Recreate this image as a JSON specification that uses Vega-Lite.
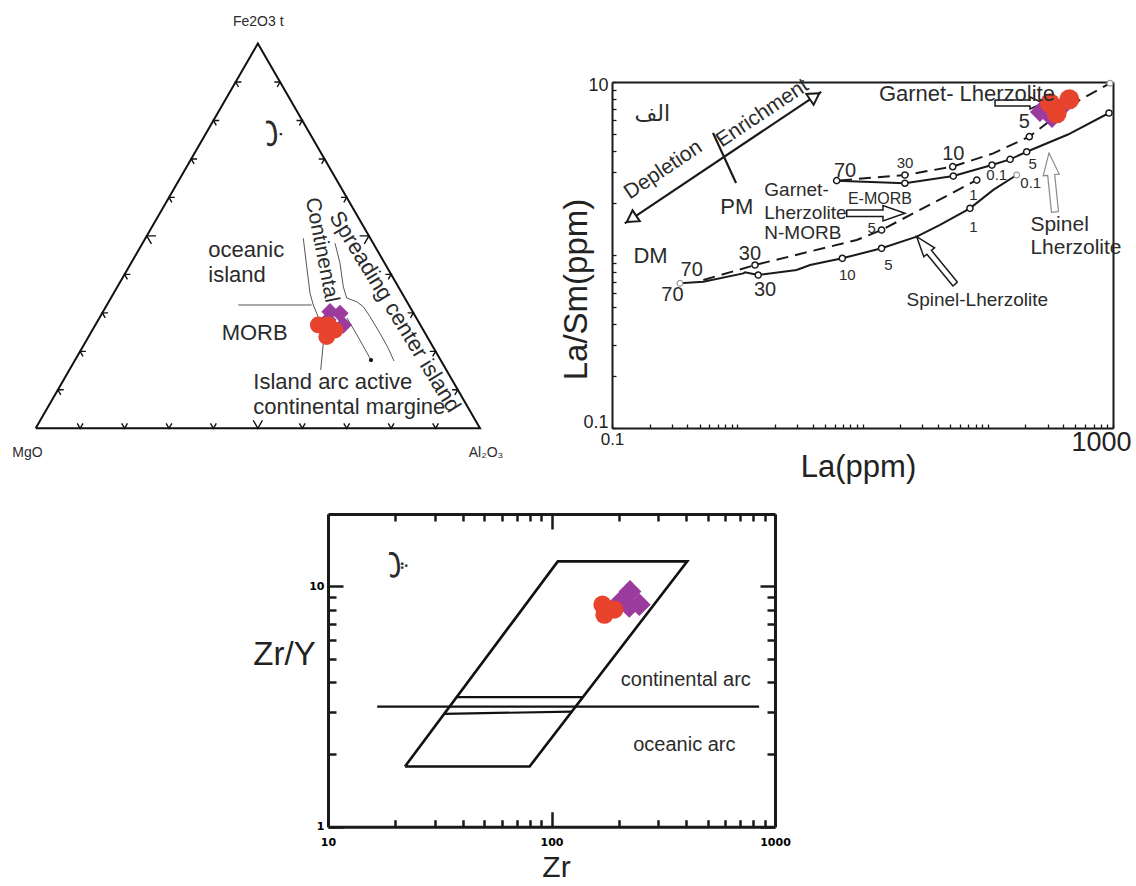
{
"$schema": "https://vega.github.io/schema/vega-lite/v6.json",
"width": 1136, "height": 886, "autosize": "none", "padding": 0, "background": "white",
"config": {
 "view": {"stroke": null},
 "axis": {"grid": false, "labelFont": "Liberation Sans", "titleFont": "Liberation Sans", "titleFontWeight": "normal", "domainColor": "#1a1a1a", "tickColor": "#1a1a1a", "labelColor": "#222222", "titleColor": "#222222", "labelFlush": false, "labelOverlap": false},
 "text": {"font": "Liberation Sans", "color": "#2b2b2b"}
},
"datasets": {
 "tern_frame": [{"x":0,"y":0,"i":0},{"x":100,"y":0,"i":1},{"x":50,"y":86.6,"i":2},{"x":0,"y":0,"i":3}],
 "tern_ticks": [
  {"x":10,"y":0,"side":"base","pct":10},{"x":20,"y":0,"side":"base","pct":20},{"x":30,"y":0,"side":"base","pct":30},{"x":40,"y":0,"side":"base","pct":40},{"x":50,"y":0,"side":"base","pct":50},{"x":60,"y":0,"side":"base","pct":60},{"x":70,"y":0,"side":"base","pct":70},{"x":80,"y":0,"side":"base","pct":80},{"x":90,"y":0,"side":"base","pct":90},
  {"x":5,"y":8.66,"side":"left","pct":10},{"x":10,"y":17.32,"side":"left","pct":20},{"x":15,"y":25.98,"side":"left","pct":30},{"x":20,"y":34.64,"side":"left","pct":40},{"x":25,"y":43.3,"side":"left","pct":50},{"x":30,"y":51.96,"side":"left","pct":60},{"x":35,"y":60.62,"side":"left","pct":70},{"x":40,"y":69.28,"side":"left","pct":80},{"x":45,"y":77.94,"side":"left","pct":90},
  {"x":95,"y":8.66,"side":"right","pct":10},{"x":90,"y":17.32,"side":"right","pct":20},{"x":85,"y":25.98,"side":"right","pct":30},{"x":80,"y":34.64,"side":"right","pct":40},{"x":75,"y":43.3,"side":"right","pct":50},{"x":70,"y":51.96,"side":"right","pct":60},{"x":65,"y":60.62,"side":"right","pct":70},{"x":60,"y":69.28,"side":"right","pct":80},{"x":55,"y":77.94,"side":"right","pct":90}
 ],
 "tern_lines": [
  {"id":"h","i":0,"x":45.6,"y":27.75},{"id":"h","i":1,"x":62.12,"y":27.75},
  {"id":"L1","i":0,"x":60.23,"y":42.76},{"id":"L1","i":1,"x":61.0,"y":36.37},{"id":"L1","i":2,"x":61.74,"y":30.39},{"id":"L1","i":3,"x":62.48,"y":27.75},{"id":"L1","i":4,"x":63.6,"y":25.0},{"id":"L1","i":5,"x":64.6,"y":21.5},{"id":"L1","i":6,"x":64.73,"y":19.13},{"id":"L1","i":7,"x":64.15,"y":13.12},
  {"id":"L2","i":0,"x":67.37,"y":41.64},{"id":"L2","i":1,"x":68.49,"y":37.14},{"id":"L2","i":2,"x":69.23,"y":31.87},{"id":"L2","i":3,"x":70.0,"y":29.33},{"id":"L2","i":4,"x":72.25,"y":28.49},{"id":"L2","i":5,"x":73.73,"y":27.37},{"id":"L2","i":6,"x":75.24,"y":25.12},{"id":"L2","i":7,"x":77.49,"y":21.38},{"id":"L2","i":8,"x":79.36,"y":18.01},{"id":"L2","i":9,"x":80.64,"y":15.15},
  {"id":"L3","i":0,"x":70.07,"y":24.83},{"id":"L3","i":1,"x":72.32,"y":21.0},{"id":"L3","i":2,"x":75.47,"y":15.37}
 ],
 "tern_dot": [{"x":75.47,"y":15.37}],
 "tern_samples": [
  {"x":66.24,"y":26.24,"series":"s1"},{"x":68.49,"y":25.88,"series":"s1"},{"x":69.23,"y":23.25,"series":"s1"},{"x":65.79,"y":24.38,"series":"s1"},
  {"x":63.61,"y":23.25,"series":"s2"},{"x":65.86,"y":23.25,"series":"s2"},{"x":65.5,"y":20.62,"series":"s2"},{"x":67.36,"y":22.12,"series":"s2"}
 ],
 "tern_text": [
  {"x":50.1,"y":91.45,"text":"Fe2O3 t","kind":"corner"},
  {"x":-1.85,"y":-5.56,"text":"MgO","kind":"corner"},
  {"x":101.35,"y":-5.56,"text":"Al₂O₃","kind":"corner"},
  {"x":38.85,"y":40.13,"text":"oceanic","kind":"region"},
  {"x":38.85,"y":34.5,"text":"island","kind":"region"},
  {"x":41.86,"y":21.38,"text":"MORB","kind":"region"},
  {"x":48.98,"y":10.49,"text":"Island arc active","kind":"region"},
  {"x":48.98,"y":4.86,"text":"continental margine","kind":"region"},
  {"x":64.37,"y":40.13,"text":"Continental","kind":"cont"},
  {"x":80.87,"y":26.24,"text":"Spreading center island","kind":"spread"}
 ],
 "tern_arabic": [{"x":51.99,"y":66.4,"text":"ب"}],
 "tr_curves": [
  {"curve":"g_solid","i":0,"x":6.22,"y":2.69},{"curve":"g_solid","i":1,"x":21.8,"y":2.60},{"curve":"g_solid","i":2,"x":53.1,"y":2.86},{"curve":"g_solid","i":3,"x":108,"y":3.31},{"curve":"g_solid","i":4,"x":150.7,"y":3.57},{"curve":"g_solid","i":5,"x":204.6,"y":3.95},{"curve":"g_solid","i":6,"x":437,"y":4.97},{"curve":"g_solid","i":7,"x":929,"y":6.62},
  {"curve":"g_dash","i":0,"x":6.61,"y":2.70},{"curve":"g_dash","i":1,"x":21.8,"y":2.90},{"curve":"g_dash","i":2,"x":52.5,"y":3.24},{"curve":"g_dash","i":3,"x":110.7,"y":3.87},{"curve":"g_dash","i":4,"x":214.6,"y":4.83},{"curve":"g_dash","i":5,"x":460,"y":7.36},{"curve":"g_dash","i":6,"x":946,"y":9.83},
  {"curve":"s_solid","i":0,"x":0.349,"y":0.686},{"curve":"s_solid","i":1,"x":0.536,"y":0.701},{"curve":"s_solid","i":2,"x":1.118,"y":0.783},{"curve":"s_solid","i":3,"x":1.153,"y":0.794},{"curve":"s_solid","i":4,"x":1.47,"y":0.766},{"curve":"s_solid","i":5,"x":2.98,"y":0.819},{"curve":"s_solid","i":6,"x":3.81,"y":0.875},{"curve":"s_solid","i":7,"x":6.90,"y":0.957},{"curve":"s_solid","i":8,"x":14.2,"y":1.093},{"curve":"s_solid","i":9,"x":27.1,"y":1.276},{"curve":"s_solid","i":10,"x":41.6,"y":1.491},{"curve":"s_solid","i":11,"x":72.1,"y":1.862},{"curve":"s_solid","i":12,"x":110.7,"y":2.38},{"curve":"s_solid","i":13,"x":170.3,"y":2.90},
  {"curve":"s_dash","i":0,"x":0.536,"y":0.717},{"curve":"s_dash","i":1,"x":1.386,"y":0.875},{"curve":"s_dash","i":2,"x":8.99,"y":1.221},{"curve":"s_dash","i":3,"x":14.2,"y":1.395},{"curve":"s_dash","i":4,"x":81.7,"y":2.71}
 ],
 "tr_nodes": [
  {"x":6.22,"y":2.69,"kind":"open"},{"x":21.8,"y":2.60,"kind":"open"},{"x":53.1,"y":2.86,"kind":"open"},{"x":108,"y":3.31,"kind":"open"},{"x":150.7,"y":3.57,"kind":"open"},{"x":204.6,"y":3.95,"kind":"open"},{"x":929,"y":6.62,"kind":"open"},
  {"x":21.8,"y":2.90,"kind":"open"},{"x":52.5,"y":3.24,"kind":"open"},{"x":214.6,"y":4.83,"kind":"open"},
  {"x":1.47,"y":0.766,"kind":"open"},{"x":6.90,"y":0.957,"kind":"open"},{"x":14.2,"y":1.093,"kind":"open"},{"x":72.1,"y":1.862,"kind":"open"},
  {"x":1.386,"y":0.875,"kind":"open"},{"x":14.2,"y":1.395,"kind":"open"},{"x":81.7,"y":2.71,"kind":"open"},
  {"x":0.349,"y":0.686,"kind":"end"},{"x":170.3,"y":2.90,"kind":"end"},{"x":946,"y":9.83,"kind":"end"}
 ],
 "tr_guides": [
  {"id":"trend","i":0,"x":0.1265,"y":1.525},{"id":"trend","i":1,"x":4.68,"y":8.77},
  {"id":"pm","i":0,"x":0.64,"y":5.08},{"id":"pm","i":1,"x":0.978,"y":2.61}
 ],
 "tr_heads": [{"x":0.143,"y":1.617,"end":"depletion"},{"x":4.15,"y":8.27,"end":"enrichment"}],
 "tr_arrows": [
  {"id":"emorb","i":0,"x":7.48,"y":1.820},{"id":"emorb","i":1,"x":14.58,"y":1.820},{"id":"emorb","i":2,"x":14.58,"y":1.932},{"id":"emorb","i":3,"x":21.84,"y":1.742},{"id":"emorb","i":4,"x":14.58,"y":1.572},{"id":"emorb","i":5,"x":14.58,"y":1.667},{"id":"emorb","i":6,"x":7.48,"y":1.667},{"id":"emorb","i":7,"x":7.48,"y":1.820},
  {"id":"garnet","i":0,"x":114.3,"y":7.870},{"id":"garnet","i":1,"x":217.5,"y":7.870},{"id":"garnet","i":2,"x":217.5,"y":8.19},{"id":"garnet","i":3,"x":276.2,"y":7.561},{"id":"garnet","i":4,"x":217.5,"y":6.98},{"id":"garnet","i":5,"x":217.5,"y":7.265},{"id":"garnet","i":6,"x":114.3,"y":7.265},{"id":"garnet","i":7,"x":114.3,"y":7.870},
  {"id":"spinel_low","i":0,"x":57.35,"y":0.6964},{"id":"spinel_low","i":1,"x":35.55,"y":1.063},{"id":"spinel_low","i":2,"x":37.63,"y":1.099},{"id":"spinel_low","i":3,"x":27.08,"y":1.276},{"id":"spinel_low","i":4,"x":30.86,"y":0.9777},{"id":"spinel_low","i":5,"x":32.68,"y":1.0107},{"id":"spinel_low","i":6,"x":52.71,"y":0.6619},{"id":"spinel_low","i":7,"x":57.35,"y":0.6964}
 ],
 "tr_arrow_grey": [
  {"id":"spinel_up","i":0,"x":367.2,"y":1.782},{"id":"spinel_up","i":1,"x":342.3,"y":2.920},{"id":"spinel_up","i":2,"x":372.0,"y":2.935},{"id":"spinel_up","i":3,"x":308.3,"y":3.888},{"id":"spinel_up","i":4,"x":277.2,"y":2.873},{"id":"spinel_up","i":5,"x":301.0,"y":2.888},{"id":"spinel_up","i":6,"x":322.8,"y":1.763},{"id":"spinel_up","i":7,"x":367.2,"y":1.782}
 ],
 "tr_samples": [
  {"x":261,"y":6.71,"series":"s1"},{"x":326,"y":6.19,"series":"s1"},{"x":392,"y":7.16,"series":"s1"},{"x":303,"y":7.46,"series":"s1"},
  {"x":314,"y":7.54,"series":"s2"},{"x":448,"y":7.94,"series":"s2"},{"x":355,"y":6.59,"series":"s2"}
 ],
 "tr_text": [
  {"x":0.992,"y":1.897,"text":"PM","kind":"region"},
  {"x":0.2033,"y":0.984,"text":"DM","kind":"region"},
  {"x":68.2,"y":8.52,"text":"Garnet- Lherzolite","kind":"region"},
  {"x":219.1,"y":1.491,"text":"Spinel","kind":"regionLeft"},
  {"x":219.1,"y":1.098,"text":"Lherzolite","kind":"regionLeft"},
  {"x":1.644,"y":2.362,"text":"Garnet-","kind":"model"},
  {"x":1.644,"y":1.740,"text":"Lherzolite","kind":"model"},
  {"x":1.644,"y":1.340,"text":"N-MORB","kind":"model"},
  {"x":82.4,"y":0.546,"text":"Spinel-Lherzolite","kind":"modelMid"},
  {"x":13.77,"y":2.116,"text":"E-MORB","kind":"small"},
  {"x":0.2568,"y":3.10,"text":"Depletion","kind":"trend"},
  {"x":1.591,"y":6.60,"text":"Enrichment","kind":"trend"},
  {"x":7.25,"y":3.07,"text":"70","kind":"stepBig"},
  {"x":53.1,"y":3.84,"text":"10","kind":"stepBig"},
  {"x":195.8,"y":5.90,"text":"5","kind":"stepBig"},
  {"x":1.264,"y":1.013,"text":"30","kind":"stepBig"},
  {"x":1.666,"y":0.628,"text":"30","kind":"stepBig"},
  {"x":0.4328,"y":0.819,"text":"70","kind":"stepBig"},
  {"x":0.304,"y":0.587,"text":"70","kind":"stepBig"},
  {"x":21.84,"y":3.42,"text":"30","kind":"stepSmall"},
  {"x":228.5,"y":3.36,"text":"5","kind":"stepSmall"},
  {"x":117.9,"y":2.90,"text":"0.1","kind":"stepSmall"},
  {"x":220.3,"y":2.60,"text":"0.1","kind":"stepSmall"},
  {"x":76.7,"y":2.22,"text":"1","kind":"stepSmall"},
  {"x":76.7,"y":1.458,"text":"1","kind":"stepSmall"},
  {"x":11.84,"y":1.432,"text":"5","kind":"stepSmall"},
  {"x":16.07,"y":0.875,"text":"5","kind":"stepSmall"},
  {"x":7.56,"y":0.766,"text":"10","kind":"stepSmall"}
 ],
 "tr_arabic": [{"x":0.210,"y":6.54,"text":"الف"}],
 "b_lines": [
  {"id":"para","i":0,"x":22.1,"y":1.78},{"id":"para","i":1,"x":79.8,"y":1.78},{"id":"para","i":2,"x":405,"y":12.7},{"id":"para","i":3,"x":106.7,"y":12.7},{"id":"para","i":4,"x":22.1,"y":1.78},
  {"id":"main","i":0,"x":16.6,"y":3.16},{"id":"main","i":1,"x":849,"y":3.16},
  {"id":"in1","i":0,"x":37.6,"y":3.46},{"id":"in1","i":1,"x":138,"y":3.46},
  {"id":"in2","i":0,"x":33.1,"y":2.95},{"id":"in2","i":1,"x":123,"y":3.01}
 ],
 "b_samples": [
  {"x":224.5,"y":9.53,"series":"s1"},{"x":204.8,"y":8.66,"series":"s1"},{"x":247.1,"y":8.39,"series":"s1"},{"x":222.9,"y":8.25,"series":"s1"},
  {"x":169,"y":8.39,"series":"s2"},{"x":172.5,"y":7.62,"series":"s2"},{"x":191,"y":8.0,"series":"s2"}
 ],
 "b_text": [
  {"x":399,"y":4.06,"text":"continental arc"},
  {"x":393,"y":2.19,"text":"oceanic arc"}
 ],
 "b_arabic": [{"x":18.9,"y":12.3,"text":"پ"}]
},
"resolve": {"scale": {"x": "independent", "y": "independent"}, "axis": {"x": "independent", "y": "independent"}},
"layer": [
 {
  "encoding": {
   "x": {"field": "x", "type": "quantitative", "scale": {"domain": [0, 100], "range": [35.7, 480], "zero": false, "nice": false}, "axis": null},
   "y": {"field": "y", "type": "quantitative", "scale": {"domain": [0, 86.6], "range": [428.3, 43.5], "zero": false, "nice": false}, "axis": null}
  },
  "layer": [
   {"data": {"name": "tern_frame"}, "mark": {"type": "line", "stroke": "#111111", "strokeWidth": 2, "strokeJoin": "miter"}, "encoding": {"order": {"field": "i", "type": "quantitative"}}},
   {"data": {"name": "tern_ticks"}, "transform": [{"filter": "datum.side == 'base' && datum.pct != 50"}], "mark": {"type": "point", "shape": "M-0.577,-1L0,0L0.577,-1", "filled": false, "stroke": "#111111", "strokeWidth": 1.4, "size": 100, "angle": 0, "opacity": 1}},
   {"data": {"name": "tern_ticks"}, "transform": [{"filter": "datum.side == 'base' && datum.pct == 50"}], "mark": {"type": "point", "shape": "M-0.577,-1L0,0L0.577,-1", "filled": false, "stroke": "#111111", "strokeWidth": 1.4, "size": 260, "angle": 0, "opacity": 1}},
   {"data": {"name": "tern_ticks"}, "transform": [{"filter": "datum.side == 'left' && datum.pct != 50"}], "mark": {"type": "point", "shape": "M-0.577,-1L0,0L0.577,-1", "filled": false, "stroke": "#111111", "strokeWidth": 1.4, "size": 100, "angle": 120, "opacity": 1}},
   {"data": {"name": "tern_ticks"}, "transform": [{"filter": "datum.side == 'left' && datum.pct == 50"}], "mark": {"type": "point", "shape": "M-0.577,-1L0,0L0.577,-1", "filled": false, "stroke": "#111111", "strokeWidth": 1.4, "size": 260, "angle": 120, "opacity": 1}},
   {"data": {"name": "tern_ticks"}, "transform": [{"filter": "datum.side == 'right' && datum.pct != 50"}], "mark": {"type": "point", "shape": "M-0.577,-1L0,0L0.577,-1", "filled": false, "stroke": "#111111", "strokeWidth": 1.4, "size": 100, "angle": 240, "opacity": 1}},
   {"data": {"name": "tern_ticks"}, "transform": [{"filter": "datum.side == 'right' && datum.pct == 50"}], "mark": {"type": "point", "shape": "M-0.577,-1L0,0L0.577,-1", "filled": false, "stroke": "#111111", "strokeWidth": 1.4, "size": 260, "angle": 240, "opacity": 1}},
   {"data": {"name": "tern_lines"}, "mark": {"type": "line", "stroke": "#555555", "strokeWidth": 1}, "encoding": {"detail": {"field": "id"}, "order": {"field": "i", "type": "quantitative"}}},
   {"data": {"name": "tern_dot"}, "mark": {"type": "point", "shape": "circle", "filled": true, "color": "#111111", "size": 18, "opacity": 1}},
   {"data": {"name": "tern_samples"}, "transform": [{"filter": "datum.series == 's1'"}], "mark": {"type": "point", "shape": "diamond", "filled": true, "color": "#9c3b9e", "size": 300, "opacity": 1}},
   {"data": {"name": "tern_samples"}, "transform": [{"filter": "datum.series == 's2'"}], "mark": {"type": "point", "shape": "circle", "filled": true, "color": "#e8432c", "size": 280, "opacity": 1}},
   {"data": {"name": "tern_text"}, "transform": [{"filter": "datum.kind == 'corner'"}], "mark": {"type": "text", "fontSize": 14, "align": "center", "baseline": "middle"}, "encoding": {"text": {"field": "text"}}},
   {"data": {"name": "tern_text"}, "transform": [{"filter": "datum.kind == 'region'"}], "mark": {"type": "text", "fontSize": 22, "align": "left", "baseline": "middle"}, "encoding": {"text": {"field": "text"}}},
   {"data": {"name": "tern_text"}, "transform": [{"filter": "datum.kind == 'cont'"}], "mark": {"type": "text", "fontSize": 21, "align": "center", "baseline": "middle", "angle": 79}, "encoding": {"text": {"field": "text"}}},
   {"data": {"name": "tern_text"}, "transform": [{"filter": "datum.kind == 'spread'"}], "mark": {"type": "text", "fontSize": 22, "align": "center", "baseline": "middle", "angle": 58.6}, "encoding": {"text": {"field": "text"}}},
   {"data": {"name": "tern_arabic"}, "mark": {"type": "text", "font": "DejaVu Sans", "fontSize": 32, "align": "center", "baseline": "middle", "angle": 270}, "encoding": {"text": {"field": "text"}}}
  ]
 },
 {
  "encoding": {
   "x": {"field": "x", "type": "quantitative", "scale": {"type": "log", "domain": [0.1, 1000], "range": [612, 1113], "nice": false}, "axis": null},
   "y": {"field": "y", "type": "quantitative", "scale": {"type": "log", "domain": [0.1, 10], "range": [428, 82], "nice": false}, "axis": null}
  },
  "resolve": {"axis": {"x": "independent", "y": "independent"}},
  "layer": [
   {"data": {"name": "tr_curves"}, "transform": [{"filter": "datum.curve == 'g_solid' || datum.curve == 's_solid'"}],
    "mark": {"type": "line", "stroke": "#1a1a1a", "strokeWidth": 2},
    "encoding": {
     "x": {"field": "x", "type": "quantitative", "scale": {"type": "log", "domain": [0.1, 1000], "range": [612, 1113], "nice": false},
       "axis": {"orient": "bottom", "offset": -458, "values": [0.1,0.2,0.3,0.4,0.5,0.6,0.7,0.8,0.9,1,2,3,4,5,6,7,8,9,10,20,30,40,50,60,70,80,90,100,200,300,400,500,600,700,800,900,1000], "tickSize": -4, "tickWidth": 1.3, "labels": false, "domain": true, "domainWidth": 2, "title": null}},
     "y": {"field": "y", "type": "quantitative", "scale": {"type": "log", "domain": [0.1, 10], "range": [428, 82], "nice": false},
       "axis": {"orient": "left", "offset": -612, "values": [0.1,0.2,0.3,0.4,0.5,0.6,0.7,0.8,0.9,1,2,3,4,5,6,7,8,9,10], "tickSize": -4, "tickWidth": 1.3, "labels": false, "domain": true, "domainWidth": 2, "title": null}},
     "detail": {"field": "curve"}, "order": {"field": "i", "type": "quantitative"}}},
   {"data": {"name": "tr_curves"}, "transform": [{"filter": "datum.curve == 'g_dash' || datum.curve == 's_dash'"}],
    "mark": {"type": "line", "stroke": "#1a1a1a", "strokeWidth": 2, "strokeDash": [12, 7]},
    "encoding": {
     "x": {"field": "x", "type": "quantitative", "scale": {"type": "log", "domain": [0.1, 1000], "range": [612, 1113], "nice": false},
       "axis": {"orient": "bottom", "offset": -458, "values": [0.1], "ticks": false, "domain": false, "labelExpr": "'0.1'", "labelFontSize": 17, "labelPadding": 3, "title": "La(ppm)", "titleFontSize": 31, "titleX": 858, "titleY": 48, "titleBaseline": "alphabetic", "titleAlign": "center"}},
     "y": {"field": "y", "type": "quantitative", "scale": {"type": "log", "domain": [0.1, 10], "range": [428, 82], "nice": false},
       "axis": {"orient": "left", "offset": -612, "values": [10], "ticks": false, "domain": false, "labelExpr": "'10'", "labelFontSize": 18, "labelPadding": 4, "labelOffset": 3, "title": "La/Sm(ppm)", "titleFontSize": 33, "titleAngle": 270, "titleX": -26, "titleY": 289, "titleBaseline": "alphabetic", "titleAlign": "center"}},
     "detail": {"field": "curve"}, "order": {"field": "i", "type": "quantitative"}}},
   {"data": {"name": "tr_guides"}, "mark": {"type": "line", "stroke": "#1a1a1a", "strokeWidth": 2.2},
    "encoding": {
     "x": {"field": "x", "type": "quantitative", "scale": {"type": "log", "domain": [0.1, 1000], "range": [612, 1113], "nice": false},
       "axis": {"orient": "bottom", "offset": -458, "values": [1000], "ticks": false, "domain": false, "labelExpr": "'1000'", "labelFontSize": 27, "labelPadding": 1, "labelOffset": -12, "title": null}},
     "y": {"field": "y", "type": "quantitative", "scale": {"type": "log", "domain": [0.1, 10], "range": [428, 82], "nice": false},
       "axis": {"orient": "left", "offset": -612, "values": [0.1], "ticks": false, "domain": false, "labelExpr": "'0.1'", "labelFontSize": 18, "labelPadding": 4, "labelOffset": -6, "title": null}},
     "detail": {"field": "id"}, "order": {"field": "i", "type": "quantitative"}}},
   {"data": {"name": "tr_arrows"}, "mark": {"type": "line", "stroke": "#1a1a1a", "strokeWidth": 1.5, "strokeJoin": "miter"},
    "encoding": {
     "x": {"field": "x", "type": "quantitative", "scale": {"type": "log", "domain": [0.1, 1000], "range": [612, 1113], "nice": false},
       "axis": {"orient": "top", "offset": -82, "ticks": false, "labels": false, "domain": true, "domainWidth": 2, "title": null}},
     "y": {"field": "y", "type": "quantitative", "scale": {"type": "log", "domain": [0.1, 10], "range": [428, 82], "nice": false},
       "axis": {"orient": "right", "offset": -23, "ticks": false, "labels": false, "domain": true, "domainWidth": 2, "title": null}},
     "detail": {"field": "id"}, "order": {"field": "i", "type": "quantitative"}}},
   {"data": {"name": "tr_arrow_grey"}, "mark": {"type": "line", "stroke": "#8a8a8a", "strokeWidth": 1.2, "strokeJoin": "miter"},
    "encoding": {"detail": {"field": "id"}, "order": {"field": "i", "type": "quantitative"}}},
   {"data": {"name": "tr_heads"}, "transform": [{"filter": "datum.end == 'enrichment'"}], "mark": {"type": "point", "shape": "triangle-up", "filled": true, "fill": "white", "stroke": "#1a1a1a", "strokeWidth": 2, "size": 170, "angle": 56.2, "opacity": 1}},
   {"data": {"name": "tr_heads"}, "transform": [{"filter": "datum.end == 'depletion'"}], "mark": {"type": "point", "shape": "triangle-up", "filled": true, "fill": "white", "stroke": "#1a1a1a", "strokeWidth": 2, "size": 170, "angle": 236.2, "opacity": 1}},
   {"data": {"name": "tr_nodes"}, "transform": [{"filter": "datum.kind == 'open'"}], "mark": {"type": "point", "shape": "circle", "filled": true, "fill": "white", "stroke": "#1a1a1a", "strokeWidth": 1.5, "size": 38, "opacity": 1}},
   {"data": {"name": "tr_nodes"}, "transform": [{"filter": "datum.kind == 'end'"}], "mark": {"type": "point", "shape": "circle", "filled": true, "fill": "white", "stroke": "#999999", "strokeWidth": 1.2, "size": 34, "opacity": 1}},
   {"data": {"name": "tr_samples"}, "transform": [{"filter": "datum.series == 's1'"}], "mark": {"type": "point", "shape": "diamond", "filled": true, "color": "#9c3b9e", "size": 400, "opacity": 1}},
   {"data": {"name": "tr_samples"}, "transform": [{"filter": "datum.series == 's2'"}], "mark": {"type": "point", "shape": "circle", "filled": true, "color": "#e8432c", "size": 400, "opacity": 1}},
   {"data": {"name": "tr_text"}, "transform": [{"filter": "datum.kind == 'region'"}], "mark": {"type": "text", "fontSize": 22, "align": "center", "baseline": "middle"}, "encoding": {"text": {"field": "text"}}},
   {"data": {"name": "tr_text"}, "transform": [{"filter": "datum.kind == 'regionLeft'"}], "mark": {"type": "text", "fontSize": 21, "align": "left", "baseline": "middle"}, "encoding": {"text": {"field": "text"}}},
   {"data": {"name": "tr_text"}, "transform": [{"filter": "datum.kind == 'model'"}], "mark": {"type": "text", "fontSize": 19, "align": "left", "baseline": "middle"}, "encoding": {"text": {"field": "text"}}},
   {"data": {"name": "tr_text"}, "transform": [{"filter": "datum.kind == 'modelMid'"}], "mark": {"type": "text", "fontSize": 19, "align": "center", "baseline": "middle"}, "encoding": {"text": {"field": "text"}}},
   {"data": {"name": "tr_text"}, "transform": [{"filter": "datum.kind == 'small'"}], "mark": {"type": "text", "fontSize": 16, "align": "center", "baseline": "middle"}, "encoding": {"text": {"field": "text"}}},
   {"data": {"name": "tr_text"}, "transform": [{"filter": "datum.kind == 'trend'"}], "mark": {"type": "text", "fontSize": 21, "align": "center", "baseline": "middle", "angle": 326.2}, "encoding": {"text": {"field": "text"}}},
   {"data": {"name": "tr_text"}, "transform": [{"filter": "datum.kind == 'stepBig'"}], "mark": {"type": "text", "fontSize": 20, "align": "center", "baseline": "middle"}, "encoding": {"text": {"field": "text"}}},
   {"data": {"name": "tr_text"}, "transform": [{"filter": "datum.kind == 'stepSmall'"}], "mark": {"type": "text", "fontSize": 15, "align": "center", "baseline": "middle"}, "encoding": {"text": {"field": "text"}}},
   {"data": {"name": "tr_arabic"}, "mark": {"type": "text", "font": "DejaVu Sans", "fontSize": 22, "align": "center", "baseline": "middle"}, "encoding": {"text": {"field": "text"}}}
  ]
 },
 {
  "encoding": {
   "x": {"field": "x", "type": "quantitative", "scale": {"type": "log", "domain": [10, 1000], "range": [328, 775], "nice": false}, "axis": null},
   "y": {"field": "y", "type": "quantitative", "scale": {"type": "log", "domain": [1, 20], "range": [826.7, 514], "nice": false}, "axis": null}
  },
  "resolve": {"axis": {"x": "independent", "y": "independent"}},
  "layer": [
   {"data": {"name": "b_lines"}, "transform": [{"filter": "datum.id == 'para'"}], "mark": {"type": "line", "stroke": "#111111", "strokeWidth": 2.6, "strokeJoin": "miter"},
    "encoding": {
     "x": {"field": "x", "type": "quantitative", "scale": {"type": "log", "domain": [10, 1000], "range": [328, 775], "nice": false},
       "axis": {"orient": "bottom", "offset": -59.3, "values": [10, 100, 1000], "tickSize": -15, "tickWidth": 2.5, "labels": false, "domain": true, "domainWidth": 3, "title": null}},
     "y": {"field": "y", "type": "quantitative", "scale": {"type": "log", "domain": [1, 20], "range": [826.7, 514], "nice": false},
       "axis": {"orient": "left", "offset": -328, "values": [1, 10], "tickSize": -15, "tickWidth": 2.5, "labels": false, "domain": true, "domainWidth": 3, "title": null}},
     "order": {"field": "i", "type": "quantitative"}}},
   {"data": {"name": "b_lines"}, "transform": [{"filter": "datum.id != 'para'"}], "mark": {"type": "line", "stroke": "#111111", "strokeWidth": 2.2},
    "encoding": {
     "x": {"field": "x", "type": "quantitative", "scale": {"type": "log", "domain": [10, 1000], "range": [328, 775], "nice": false},
       "axis": {"orient": "bottom", "offset": -59.3, "values": [20,30,40,50,60,70,80,90,200,300,400,500,600,700,800,900], "tickSize": -7, "tickWidth": 2.5, "labels": false, "domain": false, "title": null}},
     "y": {"field": "y", "type": "quantitative", "scale": {"type": "log", "domain": [1, 20], "range": [826.7, 514], "nice": false},
       "axis": {"orient": "left", "offset": -328, "values": [2,3,4,5,6,7,8,9], "tickSize": -8, "tickWidth": 2.5, "labels": false, "domain": false, "title": null}},
     "detail": {"field": "id"}, "order": {"field": "i", "type": "quantitative"}}},
   {"data": {"name": "b_samples"}, "transform": [{"filter": "datum.series == 's1'"}], "mark": {"type": "point", "shape": "diamond", "filled": true, "color": "#9c3b9e", "size": 520, "opacity": 1},
    "encoding": {
     "x": {"field": "x", "type": "quantitative", "scale": {"type": "log", "domain": [10, 1000], "range": [328, 775], "nice": false},
       "axis": {"orient": "top", "offset": -514, "values": [10, 100, 1000], "tickSize": -15, "tickWidth": 2.5, "labels": false, "domain": true, "domainWidth": 3, "title": null}},
     "y": {"field": "y", "type": "quantitative", "scale": {"type": "log", "domain": [1, 20], "range": [826.7, 514], "nice": false},
       "axis": {"orient": "right", "offset": -361, "values": [1, 10], "tickSize": -15, "tickWidth": 2.5, "labels": false, "domain": true, "domainWidth": 3, "title": null}}}},
   {"data": {"name": "b_samples"}, "transform": [{"filter": "datum.series == 's2'"}], "mark": {"type": "point", "shape": "circle", "filled": true, "color": "#e8432c", "size": 330, "opacity": 1},
    "encoding": {
     "x": {"field": "x", "type": "quantitative", "scale": {"type": "log", "domain": [10, 1000], "range": [328, 775], "nice": false},
       "axis": {"orient": "top", "offset": -514, "values": [20,30,40,50,60,70,80,90,200,300,400,500,600,700,800,900], "tickSize": -7, "tickWidth": 2.5, "labels": false, "domain": false, "title": null}},
     "y": {"field": "y", "type": "quantitative", "scale": {"type": "log", "domain": [1, 20], "range": [826.7, 514], "nice": false},
       "axis": {"orient": "right", "offset": -361, "values": [2,3,4,5,6,7,8,9], "tickSize": -8, "tickWidth": 2.5, "labels": false, "domain": false, "title": null}}}},
   {"data": {"name": "b_text"}, "mark": {"type": "text", "fontSize": 20, "align": "center", "baseline": "middle"},
    "encoding": {
     "x": {"field": "x", "type": "quantitative", "scale": {"type": "log", "domain": [10, 1000], "range": [328, 775], "nice": false},
       "axis": {"orient": "bottom", "offset": -59.3, "values": [10, 100, 1000], "ticks": false, "domain": false, "labelExpr": "'' + datum.value", "labelFont": "DejaVu Sans", "labelFontWeight": "bold", "labelFontSize": 11, "labelColor": "#000000", "labelPadding": 10, "title": "Zr", "titleFontSize": 30, "titleX": 556, "titleY": 50, "titleBaseline": "alphabetic", "titleAlign": "center"}},
     "y": {"field": "y", "type": "quantitative", "scale": {"type": "log", "domain": [1, 20], "range": [826.7, 514], "nice": false},
       "axis": {"orient": "left", "offset": -328, "values": [1, 10], "ticks": false, "domain": false, "labelExpr": "'' + datum.value", "labelFont": "DejaVu Sans", "labelFontWeight": "bold", "labelFontSize": 11, "labelColor": "#000000", "labelPadding": 4, "title": "Zr/Y", "titleFontSize": 33, "titleAngle": 0, "titleX": -44, "titleY": 664, "titleBaseline": "alphabetic", "titleAlign": "center"}},
     "text": {"field": "text"}}},
   {"data": {"name": "b_arabic"}, "mark": {"type": "text", "font": "DejaVu Sans", "fontSize": 32, "align": "center", "baseline": "middle", "angle": 270}, "encoding": {"text": {"field": "text"}}}
  ]
 }
]
}
